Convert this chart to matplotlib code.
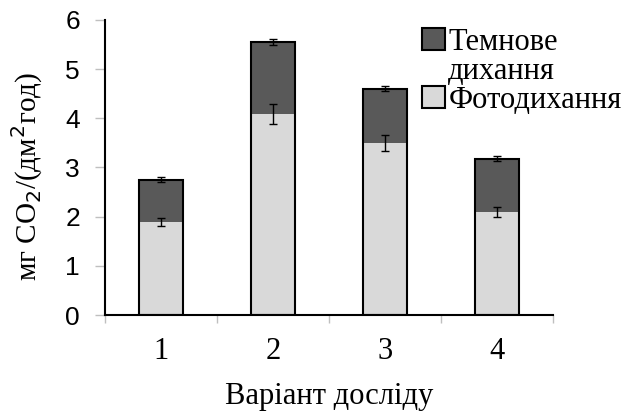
import numpy as np
import matplotlib.pyplot as plt
import matplotlib.patches as mpatches

# data
variants = ['1', '2', '3', '4']
photo = [1.90, 4.08, 3.50, 2.10]          # Фотодихання
total = [2.75, 5.55, 4.60, 3.18]          # Фото + темнове
photo_err = [0.08, 0.20, 0.16, 0.10]
total_err = [0.05, 0.07, 0.05, 0.05]

dark = [t - p for t, p in zip(total, photo)]

DARK = '#595959'
LIGHT = '#d9d9d9'

plt.rcParams['font.family'] = ['Liberation Serif', 'DejaVu Serif']

fig = plt.figure(figsize=(6.36, 4.13), dpi=100)
ax = fig.add_axes([0.165, 0.237, 0.7045, 0.715])

x = np.arange(len(variants))
width = 0.39

ax.bar(x, photo, width, color=LIGHT, linewidth=0, zorder=2)
ax.bar(x, dark, width, bottom=photo, color=DARK, linewidth=0, zorder=2)
# outline of the whole stacked bar
ax.bar(x, total, width, facecolor='none', edgecolor='black', linewidth=1.5, zorder=3)

ax.errorbar(x, photo, yerr=photo_err, fmt='none', ecolor='black',
            elinewidth=1, capsize=3, capthick=1, zorder=4)
ax.errorbar(x, total, yerr=total_err, fmt='none', ecolor='black',
            elinewidth=1, capsize=3, capthick=1, zorder=4)

ax.set_xlim(-0.5, 3.5)
ax.set_ylim(0, 6)
ax.set_yticks(range(7))
ax.set_yticklabels([str(v) for v in range(7)], family='Liberation Sans', fontsize=19)

# categories between boundary ticks (Excel style)
ax.set_xticks(np.arange(-0.5, 4, 1.0))
ax.set_xticklabels([])
ax.set_xticks(x, minor=True)
ax.set_xticklabels(variants, minor=True, fontsize=22)
ax.tick_params(axis='x', which='minor', length=0, pad=16)
ax.tick_params(axis='x', which='major', length=6, color='#bfbfbf', width=1)
ax.tick_params(axis='y', length=7, color='#bfbfbf', width=1, pad=11)

for side in ['top', 'right']:
    ax.spines[side].set_visible(False)
ax.spines['left'].set_linewidth(1.5)
ax.spines['bottom'].set_linewidth(1.5)

ax.set_xlabel('Варіант досліду', fontsize=22, labelpad=11)
ax.set_ylabel('мг CO$_2$/(дм$^2$год)', fontsize=21)
ax.yaxis.set_label_coords(-0.133, 0.47)

# legend: second line of the first label sits under its text, not beside a box
handles = [mpatches.Patch(facecolor=DARK, edgecolor='black', linewidth=1.5, label='Темнове'),
           mpatches.Patch(facecolor='none', edgecolor='none', label='дихання'),
           mpatches.Patch(facecolor=LIGHT, edgecolor='black', linewidth=1.5, label='Фотодихання')]
fig.legend(handles=handles, loc='upper left', bbox_to_anchor=(0.663, 0.933),
           frameon=False, fontsize=22, handlelength=0.75, handleheight=0.75,
           handletextpad=0.12, labelspacing=0.0, borderpad=0, borderaxespad=0)

fig.savefig('out.png', dpi=100)
